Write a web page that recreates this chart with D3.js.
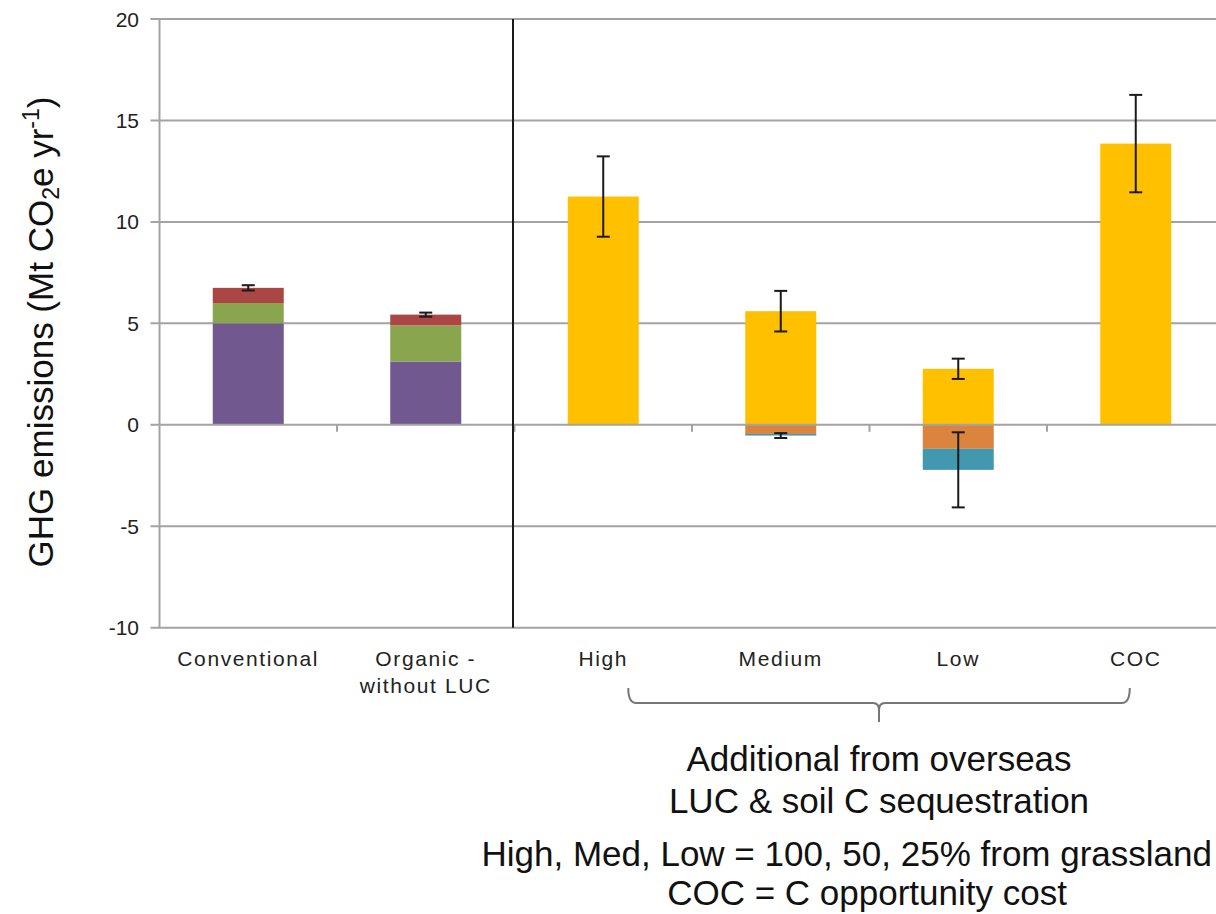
<!DOCTYPE html>
<html>
<head>
<meta charset="utf-8">
<script src="https://cdn.jsdelivr.net/npm/d3@7"></script>
<style>
html,body{margin:0;padding:0;background:#fff;}
svg{display:block;}
</style>
</head>
<body>
<svg id="chart" width="1216" height="914"></svg>
<script>
// ---------- data ----------
const categories = ["Conventional", "Organic - without LUC", "High", "Medium", "Low", "COC"];
const categoryLines = [["Conventional"], ["Organic -", "without LUC"], ["High"], ["Medium"], ["Low"], ["COC"]];
const seriesKeys = ["purple", "green", "red", "yellow", "orange", "teal"];
const purpleValues = [5.0, 3.12, 0, 0, 0, 0];
const greenValues  = [1.0, 1.78, 0, 0, 0, 0];
const redValues    = [0.75, 0.53, 0, 0, 0, 0];
const yellowValues = [0, 0, 11.25, 5.6, 2.76, 13.86];
const orangeValues = [0, 0, 0, -0.45, -1.18, 0];
const tealValues   = [0, 0, 0, -0.08, -1.04, 0];
const errorPositive = [0.13, 0.1, 1.98, 1.0, 0.5, 2.4];
const errorNegative = [null, null, null, 0.12, 1.85, null];
const yTicks = [-10, -5, 0, 5, 10, 15, 20];
const annotationLines = ["Additional from overseas", "LUC & soil C sequestration"];
const noteLines = ["High, Med, Low = 100, 50, 25% from grassland", "COC = C opportunity cost"];

const colors = {purple:"#71588F", green:"#89A54E", red:"#AA4643", yellow:"#FFC000", orange:"#DB843D", teal:"#4198AF"};

// ---------- table ----------
const valueArrays = {purple:purpleValues, green:greenValues, red:redValues, yellow:yellowValues, orange:orangeValues, teal:tealValues};
const table = categories.map((c,i)=>{
  const row = {cat:c};
  seriesKeys.forEach(k=>row[k]=valueArrays[k][i]);
  return row;
});

const svg = d3.select("#chart");
const W = 1216, H = 914;
const plotLeft = 159.5, step = 177.5;

const x = d3.scaleBand().domain(categories)
  .range([plotLeft, plotLeft + step*categories.length])
  .paddingInner(0.6).paddingOuter(0.3);
const y = d3.scaleLinear().domain([-10, 20]).range([627.7, 19]);

const font = "'Liberation Sans', Arial, sans-serif";

// gridlines
svg.append("g").selectAll("line").data(yTicks.filter(t=>t!==0)).join("line")
  .attr("x1", plotLeft-9).attr("x2", W)
  .attr("y1", d=>y(d)).attr("y2", d=>y(d))
  .attr("stroke", "#a3a3a3").attr("stroke-width", 2);

// y axis line
svg.append("line").attr("x1", plotLeft).attr("x2", plotLeft)
  .attr("y1", y(20)).attr("y2", y(-10))
  .attr("stroke", "#a3a3a3").attr("stroke-width", 2);

// y tick labels
svg.append("g").selectAll("text").data(yTicks).join("text")
  .attr("x", 139).attr("y", d=>y(d)).attr("dy", "0.36em")
  .attr("text-anchor", "end")
  .attr("font-family", font).attr("font-size", 21).attr("fill", "#222")
  .text(d=>d);

// stacked bars
const stack = d3.stack().keys(seriesKeys).offset(d3.stackOffsetDiverging);
const layers = stack(table);
svg.append("g").selectAll("g").data(layers).join("g")
  .attr("fill", d=>colors[d.key])
  .selectAll("rect").data(d=>d).join("rect")
  .attr("x", d=>x(d.data.cat))
  .attr("width", x.bandwidth())
  .attr("y", d=>y(Math.max(d[0], d[1])))
  .attr("height", d=>Math.abs(y(d[0]) - y(d[1])));

// zero line with category ticks
svg.append("line").attr("x1", plotLeft-9).attr("x2", W)
  .attr("y1", y(0)).attr("y2", y(0))
  .attr("stroke", "#a3a3a3").attr("stroke-width", 2);
const boundaries = categories.slice(1).map(c=>x(c) + x.bandwidth()/2 - step/2);
svg.append("g").selectAll("line").data(boundaries).join("line")
  .attr("x1", d=>d).attr("x2", d=>d)
  .attr("y1", y(0)).attr("y2", y(0)+7)
  .attr("stroke", "#a3a3a3").attr("stroke-width", 2);

// error bars
const capW = 13;
const errData = [];
table.forEach((r,i)=>{
  const pos = seriesKeys.reduce((s,k)=>s + Math.max(0, r[k]), 0);
  const neg = seriesKeys.reduce((s,k)=>s + Math.min(0, r[k]), 0);
  const cx = x(r.cat) + x.bandwidth()/2;
  if (errorPositive[i] != null) errData.push({cx, v:pos, e:errorPositive[i]});
  if (errorNegative[i] != null) errData.push({cx, v:neg, e:errorNegative[i]});
});
const eg = svg.append("g").attr("stroke", "#1a1a1a").attr("stroke-width", 2);
errData.forEach(d=>{
  eg.append("line").attr("x1", d.cx).attr("x2", d.cx).attr("y1", y(d.v+d.e)).attr("y2", y(d.v-d.e));
  eg.append("line").attr("x1", d.cx-capW/2).attr("x2", d.cx+capW/2).attr("y1", y(d.v+d.e)).attr("y2", y(d.v+d.e));
  eg.append("line").attr("x1", d.cx-capW/2).attr("x2", d.cx+capW/2).attr("y1", y(d.v-d.e)).attr("y2", y(d.v-d.e));
});

// divider between groups
const divX = x(categories[2]) + x.bandwidth()/2 - step/2 - 1.5;
svg.append("line").attr("x1", divX).attr("x2", divX)
  .attr("y1", y(20)).attr("y2", y(-10))
  .attr("stroke", "#1a1a1a").attr("stroke-width", 2);

// category labels
const catG = svg.append("g");
categories.forEach((c,i)=>{
  const t = catG.append("text")
    .attr("x", x(c) + x.bandwidth()/2)
    .attr("y", 666)
    .attr("text-anchor", "middle")
    .attr("font-family", font).attr("font-size", 21)
    .attr("letter-spacing", "1.6px")
    .attr("fill", "#222");
  categoryLines[i].forEach((ln,j)=>{
    t.append("tspan").attr("x", x(c) + x.bandwidth()/2).attr("dy", j===0?0:27).text(ln);
  });
});

// bracket under High..COC
const bl = x(categories[2]) + x.bandwidth()/2 + 25;
const br = x(categories[5]) + x.bandwidth()/2 - 6;
const bm = (bl + br)/2;
svg.append("path")
  .attr("d", `M${bl},688 Q${bl},703 ${bl+8},703 L${bm-6},703 Q${bm},703 ${bm},710 Q${bm},703 ${bm+6},703 L${br-8},703 Q${br},703 ${br},688 M${bm},706 L${bm},722`)
  .attr("fill", "none").attr("stroke", "#777").attr("stroke-width", 2);

// annotation text
svg.append("g").selectAll("text").data(annotationLines).join("text")
  .attr("x", bm).attr("y", (d,i)=>771 + i*42)
  .attr("text-anchor", "middle")
  .attr("font-family", font).attr("font-size", 35).attr("fill", "#111")
  .text(d=>d);
svg.append("text").attr("x", 1212).attr("y", 866)
  .attr("text-anchor", "end")
  .attr("font-family", font).attr("font-size", 35).attr("fill", "#111")
  .text(noteLines[0]);
svg.append("text").attr("x", bm - 12).attr("y", 905).attr("text-anchor", "middle")
  .attr("font-family", font).attr("font-size", 35).attr("fill", "#111")
  .text(noteLines[1]);

// y axis title
const yt = svg.append("text")
  .attr("transform", "translate(53,332) rotate(-90)")
  .attr("text-anchor", "middle")
  .attr("font-family", font).attr("font-size", 35).attr("fill", "#111");
yt.append("tspan").text("GHG emissions (Mt CO");
yt.append("tspan").attr("font-size", 23).attr("baseline-shift", "-25%").text("2");
yt.append("tspan").text("e yr");
yt.append("tspan").attr("font-size", 23).attr("baseline-shift", "60%").text("-1");
yt.append("tspan").text(")");
</script>
</body>
</html>
